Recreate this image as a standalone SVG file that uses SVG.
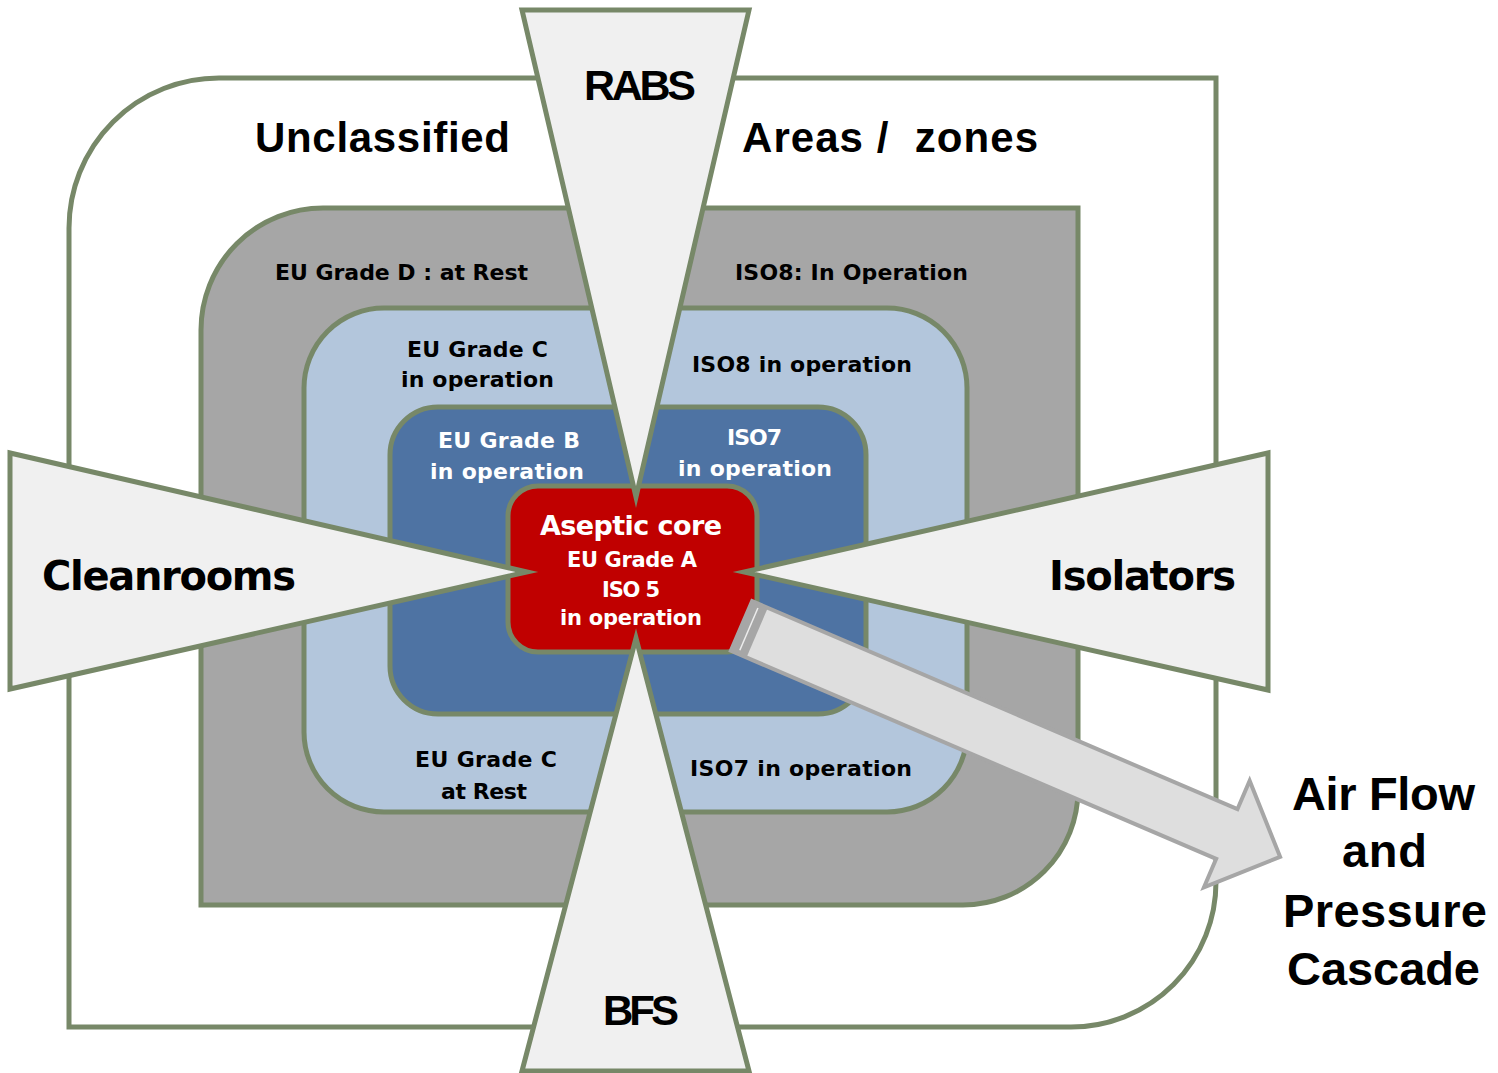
<svg xmlns="http://www.w3.org/2000/svg" width="1498" height="1073" viewBox="0 0 1498 1073">
  <style>
    .zone { stroke: #778868; stroke-width: 5; }
    .wedge { fill: #f0f0f0; stroke: #778868; stroke-width: 5; stroke-linejoin: miter; stroke-miterlimit: 10; }
    .big { font-family: "Liberation Sans", Arial, sans-serif; font-weight: bold; fill: #000; }
    .lbl { font-family: "DejaVu Sans", Verdana, sans-serif; font-weight: bold; fill: #000; }
    .w { fill: #ffffff; }
  </style>

  <rect width="1498" height="1073" fill="#ffffff"/>

  <!-- nested classification zones -->
  <g id="zone-unclassified">
    <path class="zone" fill="#ffffff" d="M69,1027 V228 A150,150 0 0 1 219,78 H1216 V882 A145,145 0 0 1 1071,1027 Z"/>
  </g>
  <g id="zone-grade-d">
    <path class="zone" fill="#a6a6a6" d="M201,905 V330 A122,122 0 0 1 323,208 H1078 V790 A115,115 0 0 1 963,905 Z"/>
  </g>
  <g id="zone-grade-c">
    <rect class="zone" fill="#b3c6dc" x="304" y="308" width="663" height="504" rx="80" ry="80"/>
  </g>
  <g id="zone-grade-b">
    <rect class="zone" fill="#4e73a3" x="390" y="407" width="476" height="307" rx="48" ry="48"/>
  </g>
  <g id="zone-core">
    <rect class="zone" fill="#c00000" x="508" y="486" width="249" height="166" rx="30" ry="30"/>
  </g>

  <!-- containment technology wedges -->
  <g id="wedge-rabs">
    <polygon class="wedge" points="522,10 749,10 636,497"/>
  </g>
  <g id="wedge-bfs">
    <polygon class="wedge" points="522,1071 749,1071 636,638"/>
  </g>
  <g id="wedge-cleanrooms">
    <polygon class="wedge" points="10,453 10,689 527,572"/>
  </g>
  <g id="wedge-isolators">
    <polygon class="wedge" points="1268,453 1268,690 744,572"/>
  </g>

  <!-- air flow arrow -->
  <g id="connectors">
    <g transform="translate(741.5,626) rotate(23.2)">
      <path d="M0,-27 H528 V-58 L586,0 L528,58 V27 H0 Z" fill="#dedede" stroke="#a6a6a6" stroke-width="4" stroke-linejoin="miter"/>
      <rect x="0" y="-27" width="17" height="54" fill="#a6a6a6"/>
      <line x1="8" y1="-23" x2="8" y2="23" stroke="#ececec" stroke-width="1.5"/>
    </g>
  </g>

  <!-- labels -->
  <g id="labels">
    <text class="big" x="255" y="152" font-size="42" textLength="255">Unclassified</text>
    <text class="big" x="742" y="152" font-size="42" textLength="296" style="white-space:pre">Areas /  zones</text>
    <text class="big" x="584" y="100" font-size="43" textLength="112">RABS</text>
    <text class="big" x="603" y="1025" font-size="42" textLength="76">BFS</text>
    <text class="lbl" x="42" y="590" font-size="40" textLength="254">Cleanrooms</text>
    <text class="lbl" x="1049" y="590" font-size="40" textLength="187">Isolators</text>

    <text class="lbl" x="275" y="280" font-size="22" textLength="253">EU Grade D : at Rest</text>
    <text class="lbl" x="735" y="280" font-size="22" textLength="233">ISO8: In Operation</text>

    <text class="lbl" x="407" y="357" font-size="22" textLength="141">EU Grade C</text>
    <text class="lbl" x="401" y="387" font-size="22" textLength="153">in operation</text>
    <text class="lbl" x="692" y="372" font-size="22" textLength="220">ISO8 in operation</text>

    <text class="lbl w" x="438" y="448" font-size="22" textLength="142">EU Grade B</text>
    <text class="lbl w" x="430" y="479" font-size="22" textLength="154">in operation</text>
    <text class="lbl w" x="727" y="445" font-size="22" textLength="55">ISO7</text>
    <text class="lbl w" x="678" y="476" font-size="22" textLength="154">in operation</text>

    <text class="lbl w" x="540" y="535" font-size="27" textLength="182">Aseptic core</text>
    <text class="lbl w" x="567" y="567" font-size="21" textLength="130">EU Grade A</text>
    <text class="lbl w" x="602" y="597" font-size="21" textLength="58">ISO 5</text>
    <text class="lbl w" x="560" y="625" font-size="21" textLength="142">in operation</text>

    <text class="lbl" x="415" y="767" font-size="22" textLength="142">EU Grade C</text>
    <text class="lbl" x="441" y="799" font-size="22" textLength="86">at Rest</text>
    <text class="lbl" x="690" y="776" font-size="22" textLength="222">ISO7 in operation</text>

    <text class="big" x="1292" y="810" font-size="47" textLength="183">Air Flow</text>
    <text class="big" x="1342" y="867" font-size="47" textLength="85">and</text>
    <text class="big" x="1283" y="927" font-size="47" textLength="204">Pressure</text>
    <text class="big" x="1287" y="985" font-size="47" textLength="193">Cascade</text>
  </g>
</svg>
